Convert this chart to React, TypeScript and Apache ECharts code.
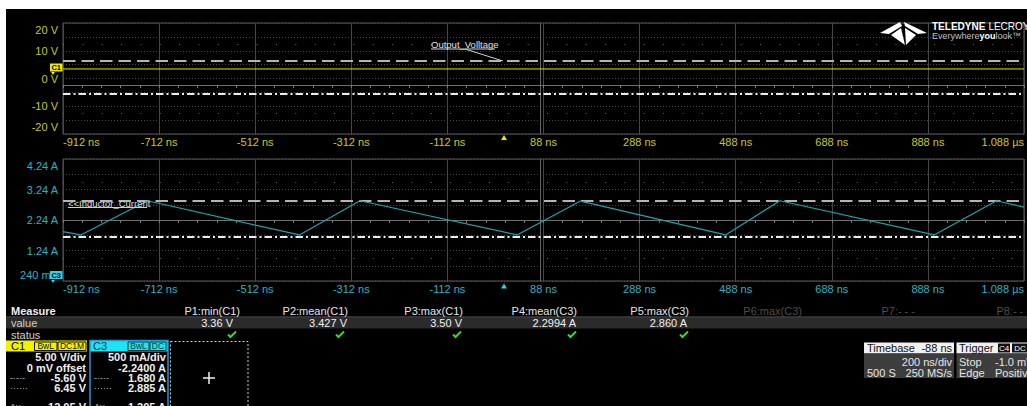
import React, { useEffect, useRef } from 'react';
import * as echarts from 'echarts';

// ---- data ----
const timeTickLabels = ['-912 ns', '-712 ns', '-512 ns', '-312 ns', '-112 ns', '88 ns', '288 ns', '488 ns', '688 ns', '888 ns', '1.088 µs'];
const voltageTickLabels = ['-20 V', '-10 V', '0 V', '10 V', '20 V'];
const currentTickLabels = ['240 mA', '1.24 A', '2.24 A', '3.24 A', '4.24 A'];

const voltageTimesNs = [-912, -600, -300, 0, 300, 600, 900, 1088];
const voltageValues = [3.43, 3.42, 3.44, 3.43, 3.42, 3.44, 3.43, 3.43];

const currentTimesNs = [-912, -875, -736, -420, -294, 33, 165, 467, 580, 901, 1031, 1088];
const currentValues = [1.86, 1.75, 2.87, 1.75, 2.87, 1.75, 2.86, 1.75, 2.87, 1.75, 2.87, 2.66];

const voltageCursors = [6.45, -5.6];
const currentCursors = [2.885, 1.68];

const measureHeaders = ['P1:min(C1)', 'P2:mean(C1)', 'P3:max(C1)', 'P4:mean(C3)', 'P5:max(C3)', 'P6:max(C3)', 'P7:- - -', 'P8:- - -'];
const measureValues = ['3.36 V', '3.427 V', '3.50 V', '2.2994 A', '2.860 A'];
const c1Lines = ['5.00 V/div', '0 mV offset', '-5.60 V', '6.45 V', '12.05 V'];
const c3Lines = ['500 mA/div', '-2.2400 A', '1.680 A', '2.885 A', '1.205 A'];
const lineSymbols = ['', '', '-·-·-', '······', 'Δy'];

// ---- style ----
const FONT = 'Arial, "Liberation Sans", Helvetica, sans-serif';
const YEL = '#c9c91e';
const CYAN = '#22b6c6';
const W = 1021;
const H = 397;

const txt = (x: number, y: number, text: string, o: any = {}) => ({
  type: 'text',
  x,
  y,
  z: 100,
  silent: true,
  style: { text, fill: '#e6e6e6', fontSize: 11, fontFamily: FONT, align: 'left', verticalAlign: 'middle', ...o },
});
const rect = (x: number, y: number, w: number, h: number, style: any) => ({
  type: 'rect', z: 99, silent: true, shape: { x, y, width: w, height: h }, style,
});
const line = (x1: number, y1: number, x2: number, y2: number, style: any) => ({
  type: 'line', z: 100, silent: true, shape: { x1, y1, x2, y2 }, style,
});
const poly = (points: number[][], fill: string) => ({
  type: 'polygon', z: 100, silent: true, shape: { points }, style: { fill },
});

function buildGraphic() {
  const g: any[] = [];
  // logo
  g.push(poly([[874, 24], [894, 13], [896, 17], [883, 25]], '#fff'));
  g.push(poly([[898, 13], [921, 24], [912, 25], [899, 17]], '#fff'));
  g.push(poly([[885, 26], [895, 19], [899, 36]], '#fff'));
  g.push(poly([[899, 19], [910, 26], [900, 36]], '#fff'));
  g.push(txt(926, 17, '{b|TELEDYNE} {r|LECROY}', {
    rich: {
      b: { fontSize: 10, fontWeight: 'bold', fill: '#fff', fontFamily: FONT },
      r: { fontSize: 10, fill: '#fff', fontFamily: FONT },
    },
  }));
  g.push(txt(926, 27, '{g|Everywhere}{w|you}{g|look™}', {
    rich: {
      g: { fontSize: 9, fill: '#bdbdbd', fontFamily: FONT },
      w: { fontSize: 9, fill: '#fff', fontWeight: 'bold', fontFamily: FONT },
    },
  }));

  // annotations
  g.push(txt(425, 35.5, 'Output_Volltage', { fontSize: 9.5, fill: '#e0e0e0' }));
  g.push(line(425, 40, 489, 40, { stroke: '#d0d0d0', lineWidth: 1 }));
  g.push(line(459, 40, 497, 52, { stroke: '#d0d0d0', lineWidth: 1 }));
  g.push(txt(62, 194.5, '<<Inductor_Current', { fontSize: 9.5, fill: '#d8d8d8' }));
  g.push(line(62, 198.5, 141, 198.5, { stroke: '#cfcfcf', lineWidth: 1 }));

  // channel badges on the axes
  g.push(rect(44, 54.5, 12.5, 8, { fill: '#eeee00' }));
  g.push(txt(50.2, 58.7, 'C1', { fill: '#000', fontSize: 7.5, fontWeight: 'bold', align: 'center' }));
  g.push(poly([[45, 63], [49, 63], [47, 66]], '#eeee00'));
  g.push(rect(44, 262, 12.5, 8, { fill: '#28d4e6' }));
  g.push(txt(50.2, 266.2, 'C3', { fill: '#000', fontSize: 7.5, fontWeight: 'bold', align: 'center' }));
  g.push(poly([[45, 271], [49, 271], [47, 274]], '#28d4e6'));

  // trigger markers
  g.push(poly([[495, 131], [501, 131], [498, 126]], '#e8e800'));
  g.push(poly([[495, 279.5], [501, 279.5], [498, 274.5]], '#28d4e6'));

  // measurement table
  g.push(rect(0, 308.5, W, 11, { fill: '#2b2b2b' }));
  g.push(line(0, 308, W, 308, { stroke: '#5a5a5a', lineWidth: 1 }));
  g.push(txt(5, 301.5, 'Measure', { fontWeight: 'bold', fill: '#f0f0f0' }));
  g.push(txt(5, 314, 'value', { fill: '#d0d0d0' }));
  g.push(txt(5, 325.5, 'status', { fill: '#d0d0d0' }));
  const headerRight = [234, 342, 457, 571, 683, 796, 909, 1024];
  measureHeaders.forEach((h, i) => {
    g.push(txt(headerRight[i], 301.5, h, { align: 'right', fill: i < 5 ? '#e6e6e6' : '#4e4e4e' }));
  });
  const valueRight = [227, 341, 456, 570, 681];
  const checkX = [226, 334, 451, 566, 678];
  measureValues.forEach((v, i) => {
    g.push(txt(valueRight[i], 314, v, { align: 'right', fill: '#f0f0f0' }));
    const cx = checkX[i];
    g.push({
      type: 'polyline', z: 100, silent: true,
      shape: { points: [[cx - 4, 325.5], [cx - 1.5, 328], [cx + 4, 322.5]] },
      style: { stroke: '#3fd23f', lineWidth: 2, fill: 'none' },
    });
  });

  // C1 descriptor
  g.push(rect(0, 331.5, 81, 11, { fill: '#f2f200' }));
  g.push(txt(5, 337, 'C1', { fill: '#000' }));
  g.push(rect(28.5, 333, 22.5, 8.5, { fill: 'none', stroke: '#111', lineWidth: 1 }));
  g.push(txt(39.7, 337.3, 'BwL', { fill: '#111', fontSize: 8.5, align: 'center' }));
  g.push(rect(52, 333, 28, 8.5, { fill: 'none', stroke: '#111', lineWidth: 1 }));
  g.push(txt(66, 337.3, 'DC1M', { fill: '#111', fontSize: 8.5, align: 'center' }));
  const rowY = [348, 358.7, 369, 379.3, 398];
  c1Lines.forEach((t, i) => {
    g.push(txt(80, rowY[i], t, { align: 'right', fill: '#f0f0f0', fontWeight: 'bold' }));
    if (lineSymbols[i]) g.push(txt(4, rowY[i], lineSymbols[i], { fill: '#bdbdbd', fontSize: 9 }));
  });

  // C3 descriptor
  g.push(rect(84, 331.5, 78, 11, { fill: '#1fe2f2' }));
  g.push(rect(84, 331.5, 78, 75, { fill: 'none', stroke: '#1e9ad8', lineWidth: 1.5 }));
  g.push(txt(87, 337, 'C3', { fill: '#0a3a40' }));
  g.push(rect(122, 333, 21, 8.5, { fill: 'none', stroke: '#0a3a40', lineWidth: 1 }));
  g.push(txt(132.5, 337.3, 'BwL', { fill: '#0a3a40', fontSize: 8.5, align: 'center' }));
  g.push(rect(144, 333, 16, 8.5, { fill: 'none', stroke: '#0a3a40', lineWidth: 1 }));
  g.push(txt(152, 337.3, 'DC', { fill: '#0a3a40', fontSize: 8.5, align: 'center' }));
  c3Lines.forEach((t, i) => {
    g.push(txt(160, rowY[i], t, { align: 'right', fill: '#f0f0f0', fontWeight: 'bold' }));
    if (lineSymbols[i]) g.push(txt(88, rowY[i], lineSymbols[i], { fill: '#bdbdbd', fontSize: 9 }));
  });

  // add box
  g.push(rect(164.5, 332.5, 77.5, 75, { fill: 'none', stroke: '#cfcfcf', lineWidth: 1, lineDash: [2, 2] }));
  g.push(line(197, 369, 209, 369, { stroke: '#f0f0f0', lineWidth: 1.5 }));
  g.push(line(203, 363, 203, 375, { stroke: '#f0f0f0', lineWidth: 1.5 }));

  // timebase
  g.push(rect(858, 333.5, 90, 11, { fill: '#f0f0f0' }));
  g.push(rect(858, 344.5, 90, 24.5, { fill: '#3d3d3d' }));
  g.push(txt(861, 339, 'Timebase', { fill: '#111' }));
  g.push(txt(946, 339, '-88 ns', { fill: '#111', align: 'right' }));
  g.push(txt(946, 352.5, '200 ns/div', { fill: '#e6e6e6', align: 'right' }));
  g.push(txt(861, 364, '500 S', { fill: '#e6e6e6' }));
  g.push(txt(946, 364, '250 MS/s', { fill: '#e6e6e6', align: 'right' }));

  // trigger
  g.push(rect(950.5, 333.5, 80, 11, { fill: '#f0f0f0' }));
  g.push(rect(950.5, 344.5, 80, 24.5, { fill: '#3d3d3d' }));
  g.push(txt(953, 339, 'Trigger', { fill: '#111' }));
  g.push(rect(992, 334.5, 12, 9, { fill: '#111' }));
  g.push(txt(998, 339, 'C4', { fill: '#fff', fontSize: 8, align: 'center' }));
  g.push(rect(1006, 334.5, 16, 9, { fill: '#111' }));
  g.push(txt(1014, 339, 'DC', { fill: '#fff', fontSize: 8, align: 'center' }));
  g.push(txt(953, 352.5, 'Stop', { fill: '#e6e6e6' }));
  g.push(txt(989, 352.5, '-1.0 mV', { fill: '#e6e6e6' }));
  g.push(txt(953, 364, 'Edge', { fill: '#e6e6e6' }));
  g.push(txt(989, 364, 'Positive', { fill: '#e6e6e6' }));
  return g;
}

function timeLabel(v: number) {
  return timeTickLabels[Math.round((v + 912) / 200)] ?? '';
}

function buildOption() {
  const grids = [
    { left: 57, top: 1, height: 124, right: -4 },
    { left: 57, top: 150, height: 122, right: -4 },
  ];
  const xMain = (gi: number, color: string) => ({
    type: 'value', gridIndex: gi, min: -912, max: 1088, interval: 200, position: 'bottom',
    axisLine: { show: false }, axisTick: { show: false },
    axisLabel: {
      color, fontSize: 11, fontFamily: FONT, margin: 2, formatter: timeLabel,
      alignMinLabel: 'left', alignMaxLabel: 'right',
    },
    splitLine: { show: true, lineStyle: { color: '#474747', width: 1 } },
  });
  const xCenter = (gi: number, off: number) => ({
    type: 'value', gridIndex: gi, min: -912, max: 1088, interval: 200, position: 'top', offset: off,
    axisLine: { show: true, onZero: false, lineStyle: { color: '#6e6e6e', width: 1 } },
    axisTick: { show: true, inside: true, length: 3, lineStyle: { color: '#7a7a7a' } },
    minorTick: { show: true, splitNumber: 5, length: 3, lineStyle: { color: '#7a7a7a' } },
    axisLabel: { show: false }, splitLine: { show: false },
  });
  const yCenter = (gi: number, min: number, max: number, interval: number) => ({
    type: 'value', gridIndex: gi, min, max, interval, position: 'right', offset: -484,
    axisLine: { show: true, onZero: false, lineStyle: { color: '#666', width: 1 } },
    axisTick: { show: false }, axisLabel: { show: false }, splitLine: { show: false },
  });
  const yMainV = {
    type: 'value', gridIndex: 0, min: -20, max: 20, interval: 5, position: 'left',
    axisLine: { show: false }, axisTick: { show: false },
    axisLabel: {
      color: YEL, fontSize: 11, fontFamily: FONT, margin: 5, lineHeight: 14,
      formatter: (v: number) => {
        const k = Math.round((v + 20) / 5);
        if (k % 2) return '';
        const s = voltageTickLabels[k / 2];
        if (k === 8) return '\n' + s;
        if (k === 0) return s + '\n';
        return s;
      },
    },
    splitLine: { show: true, lineStyle: { color: '#4a4a4a', type: [1, 2] } },
  };
  const yMainA = {
    type: 'value', gridIndex: 1, min: 0.24, max: 4.24, interval: 0.5, position: 'left',
    axisLine: { show: false }, axisTick: { show: false },
    axisLabel: {
      color: CYAN, fontSize: 11, fontFamily: FONT, margin: 5, lineHeight: 13,
      formatter: (v: number) => {
        const k = Math.round((v - 0.24) / 0.5);
        if (k % 2) return '';
        const s = currentTickLabels[k / 2];
        if (k === 8) return '\n' + s;
        if (k === 0) return s + '\n';
        return s;
      },
    },
    splitLine: { show: true, lineStyle: { color: '#4a4a4a', type: [1, 2] } },
  };

  const cursorLines = (levels: number[], dots: number[]) => ({
    symbol: ['none', 'none'], silent: true, label: { show: false },
    data: [
      { yAxis: levels[0], lineStyle: { color: '#b4b4b4', width: 1.8, type: [12.5, 6] } },
      { yAxis: levels[1], lineStyle: { color: '#ececec', width: 1.8, type: [7.5, 3, 2, 3] } },
      ...dots.map((d) => ({ yAxis: d, lineStyle: { color: '#6a6a6a', width: 1, type: [1, 18.36] } })),
    ],
  });

  return {
    animation: false,
    backgroundColor: '#000',
    grid: grids.map((g) => ({ ...g, show: true, borderColor: '#5c5c5c', borderWidth: 1, containLabel: false })),
    xAxis: [xMain(0, YEL), xMain(1, CYAN), xCenter(0, -62), xCenter(1, -61)],
    yAxis: [yMainV, yMainA, yCenter(0, -20, 20, 5), yCenter(1, 0.24, 4.24, 0.5)],
    series: [
      {
        name: 'Output_Voltage', type: 'line', xAxisIndex: 0, yAxisIndex: 0,
        data: voltageTimesNs.map((t, i) => [t, voltageValues[i]]),
        showSymbol: false, symbol: 'none', silent: true,
        lineStyle: { color: '#e2e200', width: 1 },
        markLine: cursorLines(voltageCursors, [12.5, -12.5]),
        z: 5,
      },
      {
        name: 'Inductor_Current', type: 'line', xAxisIndex: 1, yAxisIndex: 1,
        data: currentTimesNs.map((t, i) => [t, currentValues[i]]),
        showSymbol: false, symbol: 'none', silent: true,
        lineStyle: { color: '#17a6aa', width: 1.2 },
        markLine: cursorLines(currentCursors, [3.49, 0.99]),
        z: 5,
      },
    ],
    graphic: buildGraphic(),
  };
}

export default function App() {
  const ref = useRef<HTMLDivElement>(null);
  useEffect(() => {
    if (!ref.current) return;
    const chart = echarts.init(ref.current, null, { renderer: 'svg', width: W, height: H });
    chart.setOption(buildOption() as any);
    return () => chart.dispose();
  }, []);
  return (
    <div
      ref={ref}
      style={{ position: 'fixed', left: 6, top: 9, width: W, height: H, background: '#000', overflow: 'hidden' }}
    />
  );
}
